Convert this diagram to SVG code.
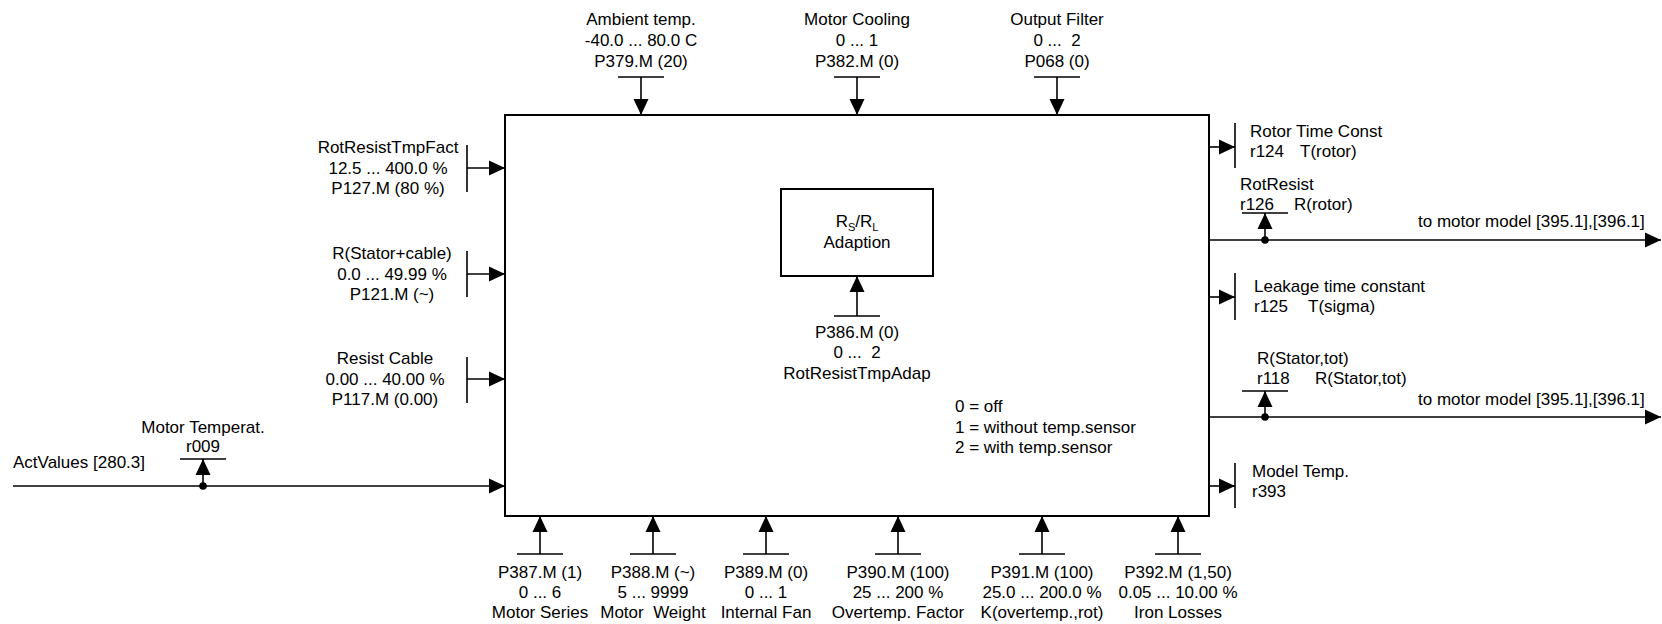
<svg xmlns="http://www.w3.org/2000/svg" width="1662" height="624" viewBox="0 0 1662 624">
<style>
text{font-family:"Liberation Sans",Arial,sans-serif;font-size:17px;fill:#000}
.c{text-anchor:middle}
.box{fill:none;stroke:#000;stroke-width:2}
.ln{fill:none;stroke:#000;stroke-width:1.6}
.ar{fill:none;stroke:#000;stroke-width:1.6;marker-end:url(#ah)}
.dot{fill:#000}
</style>
<defs>
<marker id="ah" viewBox="0 0 16 16" markerWidth="16" markerHeight="16" refX="16" refY="8" orient="auto" markerUnits="userSpaceOnUse">
<path d="M0,0.5 L16,8 L0,15.5 Z" fill="#000"/>
</marker>
</defs>
<rect width="1662" height="624" fill="#fff"/>

<g id="main-block">
<rect class="box" x="505" y="115" width="704" height="401"/>
</g>

<g id="adaption-block">
<rect class="box" x="781" y="189" width="152" height="87"/>
<text class="c" x="857" y="227">R<tspan font-size="11" dy="4">S</tspan><tspan dy="-4">/R</tspan><tspan font-size="11" dy="4">L</tspan></text>
<text class="c" x="857" y="248">Adaption</text>
</g>

<g id="connectors">
<!-- top inputs -->
<line class="ar" x1="641" y1="77" x2="641" y2="115"/><line class="ln" x1="618" y1="77" x2="664" y2="77"/>
<line class="ar" x1="857" y1="77" x2="857" y2="115"/><line class="ln" x1="834" y1="77" x2="880" y2="77"/>
<line class="ar" x1="1057" y1="77" x2="1057" y2="115"/><line class="ln" x1="1034" y1="77" x2="1080" y2="77"/>
<!-- left inputs -->
<line class="ar" x1="467" y1="168" x2="505" y2="168"/><line class="ln" x1="467" y1="145" x2="467" y2="192"/>
<line class="ar" x1="467" y1="274" x2="505" y2="274"/><line class="ln" x1="467" y1="251" x2="467" y2="297"/>
<line class="ar" x1="467" y1="379" x2="505" y2="379"/><line class="ln" x1="467" y1="357" x2="467" y2="403"/>
<!-- ActValues -->
<line class="ar" x1="13" y1="486" x2="505" y2="486"/>
<circle class="dot" cx="203" cy="486" r="3.8"/>
<line class="ar" x1="203" y1="486" x2="203" y2="459"/><line class="ln" x1="180" y1="459" x2="226" y2="459"/>
<!-- bottom inputs -->
<line class="ar" x1="540" y1="554" x2="540" y2="516"/><line class="ln" x1="517" y1="554" x2="563" y2="554"/>
<line class="ar" x1="653" y1="554" x2="653" y2="516"/><line class="ln" x1="630" y1="554" x2="676" y2="554"/>
<line class="ar" x1="766" y1="554" x2="766" y2="516"/><line class="ln" x1="743" y1="554" x2="789" y2="554"/>
<line class="ar" x1="898" y1="554" x2="898" y2="516"/><line class="ln" x1="875" y1="554" x2="921" y2="554"/>
<line class="ar" x1="1042" y1="554" x2="1042" y2="516"/><line class="ln" x1="1019" y1="554" x2="1065" y2="554"/>
<line class="ar" x1="1178" y1="554" x2="1178" y2="516"/><line class="ln" x1="1155" y1="554" x2="1201" y2="554"/>
<!-- inner input -->
<line class="ar" x1="857" y1="316" x2="857" y2="276"/><line class="ln" x1="834" y1="316" x2="880" y2="316"/>
<!-- right outputs -->
<line class="ar" x1="1209" y1="147" x2="1235" y2="147"/><line class="ln" x1="1235" y1="123" x2="1235" y2="168"/>
<line class="ar" x1="1209" y1="240" x2="1661" y2="240"/>
<circle class="dot" cx="1265" cy="240" r="3.8"/>
<line class="ar" x1="1265" y1="240" x2="1265" y2="213"/><line class="ln" x1="1242" y1="213" x2="1288" y2="213"/>
<line class="ar" x1="1209" y1="297" x2="1235" y2="297"/><line class="ln" x1="1235" y1="273" x2="1235" y2="320"/>
<line class="ar" x1="1209" y1="417" x2="1661" y2="417"/>
<circle class="dot" cx="1265" cy="417" r="3.8"/>
<line class="ar" x1="1265" y1="417" x2="1265" y2="391"/><line class="ln" x1="1242" y1="391" x2="1288" y2="391"/>
<line class="ar" x1="1209" y1="486" x2="1235" y2="486"/><line class="ln" x1="1235" y1="463" x2="1235" y2="508"/>
</g>

<g id="in-ambient">
<text class="c" x="641" y="25">Ambient temp.</text>
<text class="c" x="641" y="46">-40.0 ... 80.0 C</text>
<text class="c" x="641" y="67">P379.M (20)</text>
</g>
<g id="in-motor-cooling">
<text class="c" x="857" y="25">Motor Cooling</text>
<text class="c" x="857" y="46">0 ... 1</text>
<text class="c" x="857" y="67">P382.M (0)</text>
</g>
<g id="in-output-filter">
<text class="c" x="1057" y="25">Output Filter</text>
<text class="c" x="1057" y="46" xml:space="preserve">0 ...  2</text>
<text class="c" x="1057" y="67">P068 (0)</text>
</g>

<g id="in-rotresisttmpfact">
<text class="c" x="388" y="153">RotResistTmpFact</text>
<text class="c" x="388" y="174">12.5 ... 400.0 %</text>
<text class="c" x="388" y="194">P127.M (80 %)</text>
</g>
<g id="in-rstator-cable">
<text class="c" x="392" y="259">R(Stator+cable)</text>
<text class="c" x="392" y="280">0.0 ... 49.99 %</text>
<text class="c" x="392" y="300">P121.M (~)</text>
</g>
<g id="in-resist-cable">
<text class="c" x="385" y="364">Resist Cable</text>
<text class="c" x="385" y="385">0.00 ... 40.00 %</text>
<text class="c" x="385" y="405">P117.M (0.00)</text>
</g>
<g id="in-actvalues">
<text x="13" y="468">ActValues [280.3]</text>
</g>
<g id="in-motor-temperat">
<text class="c" x="203" y="433">Motor Temperat.</text>
<text class="c" x="203" y="452">r009</text>
</g>

<g id="in-p387">
<text class="c" x="540" y="578">P387.M (1)</text>
<text class="c" x="540" y="598">0 ... 6</text>
<text class="c" x="540" y="618">Motor Series</text>
</g>
<g id="in-p388">
<text class="c" x="653" y="578">P388.M (~)</text>
<text class="c" x="653" y="598">5 ... 9999</text>
<text class="c" x="653" y="618" xml:space="preserve">Motor  Weight</text>
</g>
<g id="in-p389">
<text class="c" x="766" y="578">P389.M (0)</text>
<text class="c" x="766" y="598">0 ... 1</text>
<text class="c" x="766" y="618">Internal Fan</text>
</g>
<g id="in-p390">
<text class="c" x="898" y="578">P390.M (100)</text>
<text class="c" x="898" y="598">25 ... 200 %</text>
<text class="c" x="898" y="618">Overtemp. Factor</text>
</g>
<g id="in-p391">
<text class="c" x="1042" y="578">P391.M (100)</text>
<text class="c" x="1042" y="598">25.0 ... 200.0 %</text>
<text class="c" x="1042" y="618">K(overtemp.,rot)</text>
</g>
<g id="in-p392">
<text class="c" x="1178" y="578">P392.M (1,50)</text>
<text class="c" x="1178" y="598">0.05 ... 10.00 %</text>
<text class="c" x="1178" y="618">Iron Losses</text>
</g>

<g id="in-p386">
<text class="c" x="857" y="338">P386.M (0)</text>
<text class="c" x="857" y="358" xml:space="preserve">0 ...  2</text>
<text class="c" x="857" y="379">RotResistTmpAdap</text>
</g>
<g id="legend">
<text x="955" y="412">0 = off</text>
<text x="955" y="433">1 = without temp.sensor</text>
<text x="955" y="453">2 = with temp.sensor</text>
</g>

<g id="out-rotor-time-const">
<text x="1250" y="137">Rotor Time Const</text>
<text x="1250" y="157">r124<tspan x="1300">T(rotor)</tspan></text>
</g>
<g id="out-rotresist">
<text x="1240" y="190">RotResist</text>
<text x="1240" y="210">r126<tspan x="1294">R(rotor)</tspan></text>
<text x="1418" y="227">to motor model [395.1],[396.1]</text>
</g>
<g id="out-leakage">
<text x="1254" y="292">Leakage time constant</text>
<text x="1254" y="312">r125<tspan x="1308">T(sigma)</tspan></text>
</g>
<g id="out-rstator-tot">
<text x="1257" y="364">R(Stator,tot)</text>
<text x="1257" y="384">r118<tspan x="1315">R(Stator,tot)</tspan></text>
<text x="1418" y="405">to motor model [395.1],[396.1]</text>
</g>
<g id="out-model-temp">
<text x="1252" y="477">Model Temp.</text>
<text x="1252" y="497">r393</text>
</g>
</svg>
